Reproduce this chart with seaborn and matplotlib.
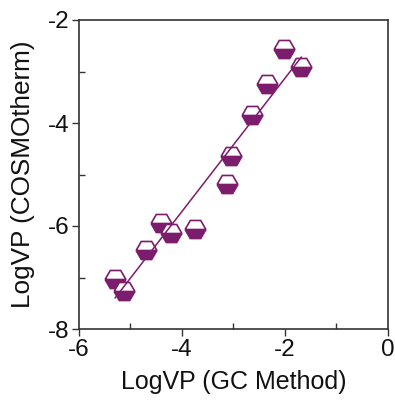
import matplotlib
matplotlib.use("Agg")
import matplotlib.pyplot as plt
from matplotlib.ticker import MultipleLocator
import seaborn as sns
import pandas as pd

# Data
logvp_gc = [-5.30, -5.12, -4.69, -4.41, -4.22, -3.74, -3.12, -3.04, -2.64, -2.35, -2.02, -1.68]
logvp_cosmo = [-7.03, -7.26, -6.46, -5.94, -6.14, -6.06, -5.19, -4.64, -3.84, -3.24, -2.56, -2.92]
x_ticks = [-6, -4, -2, 0]
y_ticks = [-8, -6, -4, -2]
x_label = "LogVP (GC Method)"
y_label = "LogVP (COSMOtherm)"

df = pd.DataFrame({"gc": logvp_gc, "cosmo": logvp_cosmo})

sns.set_style("white")
plt.rcParams["font.family"] = ["Liberation Sans", "DejaVu Sans"]
plt.rcParams["text.color"] = "#111111"
plt.rcParams["axes.labelcolor"] = "#111111"
plt.rcParams["xtick.color"] = "#111111"
plt.rcParams["ytick.color"] = "#111111"

purple = "#7b1d6c"

fig = plt.figure(figsize=(3.95, 4.0), dpi=100)
ax = fig.add_axes([0.2, 0.1775, 0.782, 0.7725])

sns.lineplot(data=df, x="gc", y="cosmo", ax=ax, estimator=None, sort=False,
             linestyle="", marker="H", markersize=15, fillstyle="bottom",
             color=purple, markerfacecolor=purple, markerfacecoloralt="white",
             markeredgecolor=purple, markeredgewidth=1.2, zorder=2)

sns.regplot(data=df, x="gc", y="cosmo", ax=ax, scatter=False, ci=None,
            truncate=True, color=purple, line_kws={"linewidth": 1.1, "zorder": 3})

ax.set_xlim(-6, 0)
ax.set_ylim(-8, -2)
ax.set_xticks(x_ticks)
ax.set_yticks(y_ticks)
ax.set_xticklabels([str(t) for t in x_ticks])
ax.set_yticklabels([str(t) for t in y_ticks])
ax.xaxis.set_minor_locator(MultipleLocator(1))
ax.yaxis.set_minor_locator(MultipleLocator(1))

ax.tick_params(which="major", direction="out", length=5, width=1.0, color="#333333",
               labelsize=17.5, pad=2, bottom=True, left=True, top=False, right=False,
               labelcolor="#111111")
ax.tick_params(which="minor", direction="in", length=4, width=1.0, color="#333333",
               bottom=True, left=True, top=False, right=False)

for s in ax.spines.values():
    s.set_visible(True)
    s.set_color("#333333")
    s.set_linewidth(1.2)

ax.set_xlabel(x_label, fontsize=18, labelpad=7, color="#111111")
ax.set_ylabel(y_label, fontsize=18.8, labelpad=9, color="#111111")

fig.savefig("out.png", dpi=100)
